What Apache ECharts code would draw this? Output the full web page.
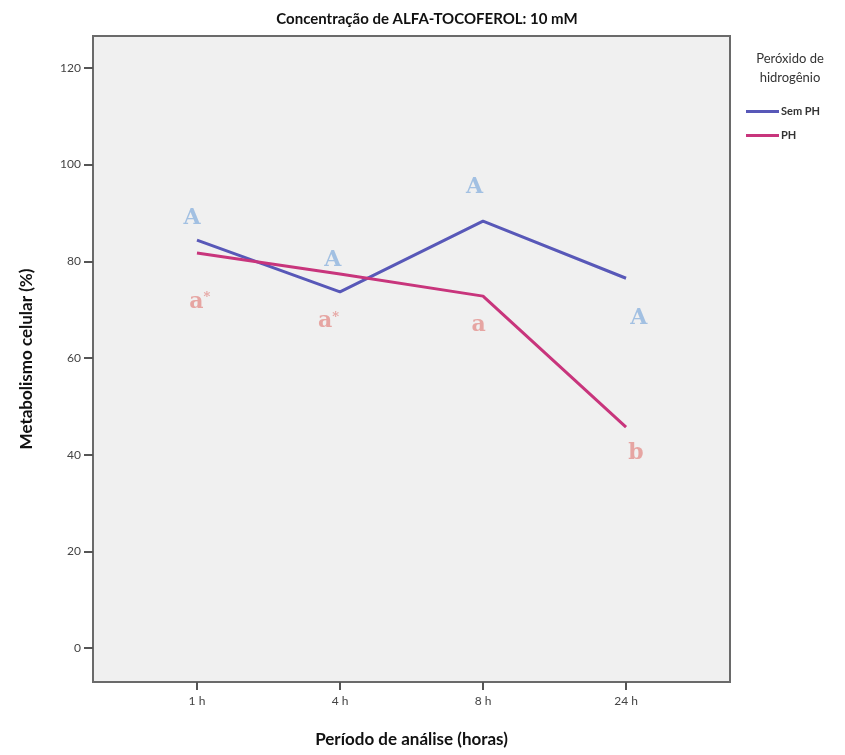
<!DOCTYPE html>
<html>
<head>
<meta charset="utf-8">
<style>html,body{margin:0;padding:0;background:#fff}#c{width:845px;height:755px}</style>
<script src="https://cdn.jsdelivr.net/npm/echarts@6/dist/echarts.min.js"></script>
</head>
<body>
<div id="c"></div>
<script>
const categories = ['1 h', '4 h', '8 h', '24 h'];
const semPH = [84.4, 73.7, 88.3, 76.5];
const ph = [81.7, 77.4, 72.8, 45.7];
const yTicks = [0, 20, 40, 60, 80, 100, 120];
// letter annotations: [x offset from category (category units), y value, text]
const upperLetters = [[-0.035, 89.0, 'A'], [-0.05, 80.3, 'A'], [-0.06, 95.4, 'A'], [0.09, 68.3, 'A']];
const lowerLetters = [[0.02, 71.6, 'a*'], [-0.08, 67.5, 'a*'], [-0.03, 66.8, 'a'], [0.07, 40.3, 'b']];

const chart = echarts.init(document.getElementById('c'));
const toXY = arr => arr.map((v, i) => [i, v]);
const toAnno = arr => arr.map((d, i) => [i + d[0], d[1], d[2]]);
const font = 'Lato, "Open Sans", sans-serif';
const letterFmt = p => {
  const t = p.data[2];
  return t.endsWith('*') ? '{m|' + t.slice(0, -1) + '}{s|*}' : '{m|' + t + '}';
};
const letterLabel = color => ({
  show: true, position: 'inside', formatter: letterFmt,
  rich: {
    m: {fontFamily: '"DejaVu Serif", serif', fontWeight: 'bold', fontSize: 22, color: color},
    s: {fontFamily: '"DejaVu Serif", serif', fontWeight: 'bold', fontSize: 13, color: color, verticalAlign: 'top', padding: [0, 0, 8, 0]}
  }
});

chart.setOption({
  animation: false,
  title: [{
    text: 'Concentração de ALFA-TOCOFEROL: 10 mM',
    left: 422, top: 7, textAlign: 'center',
    textStyle: {fontFamily: font, fontSize: 15, fontWeight: 'bold', color: '#111'}
  }, {
    text: 'Peróxido de\nhidrogênio',
    left: 785, top: 44, textAlign: 'center',
    textStyle: {fontFamily: font, fontSize: 13, fontWeight: 'normal', color: '#333', lineHeight: 19}
  }],
  legend: {
    data: ['Sem PH', 'PH'],
    orient: 'vertical',
    left: 741, top: 101,
    itemWidth: 33, itemHeight: 3, itemGap: 13,
    icon: 'rect',
    textStyle: {fontFamily: font, fontSize: 11, fontWeight: 'bold', color: '#333', padding: [0, 0, 0, -3]}
  },
  grid: {
    left: 93, top: 36, width: 637, height: 646,
    show: true, backgroundColor: '#f0f0f0', borderColor: '#6a6a6a', borderWidth: 2
  },
  xAxis: {
    type: 'value', min: -0.727, max: 3.727,
    axisLine: {show: false, onZero: false},
    splitLine: {show: false},
    axisTick: {show: true, customValues: [0, 1, 2, 3], length: 8, lineStyle: {color: '#555', width: 2}},
    axisLabel: {
      customValues: [0, 1, 2, 3],
      formatter: v => categories[Math.round(v)] || '',
      fontFamily: font, fontSize: 12, color: '#444', margin: 13
    },
    name: 'Período de análise (horas)', nameLocation: 'middle', nameGap: 49,
    nameTextStyle: {fontFamily: font, fontSize: 17, fontWeight: 'bold', color: '#111'}
  },
  yAxis: {
    type: 'value', min: -7, max: 126.6,
    axisLine: {show: false, onZero: false},
    splitLine: {show: false},
    axisTick: {show: true, customValues: yTicks, length: 9, lineStyle: {color: '#555', width: 2}},
    axisLabel: {customValues: yTicks, fontFamily: font, fontSize: 12, color: '#444', margin: 12},
    name: 'Metabolismo celular (%)', nameLocation: 'middle', nameGap: 58,
    nameTextStyle: {fontFamily: font, fontSize: 17, fontWeight: 'bold', color: '#111'}
  },
  series: [{
    name: 'Sem PH', type: 'line', data: toXY(semPH),
    symbol: 'none', color: '#5858b8', lineStyle: {width: 3, color: '#5858b8'}
  }, {
    name: 'PH', type: 'line', data: toXY(ph),
    symbol: 'none', color: '#c8357c', lineStyle: {width: 3, color: '#c8357c'}
  }, {
    name: 'upper', type: 'scatter', data: toAnno(upperLetters),
    symbolSize: 1, itemStyle: {color: 'rgba(0,0,0,0)'}, silent: true,
    label: letterLabel('#8fb4df')
  }, {
    name: 'lower', type: 'scatter', data: toAnno(lowerLetters),
    symbolSize: 1, itemStyle: {color: 'rgba(0,0,0,0)'}, silent: true,
    label: letterLabel('#e3928f')
  }]
});
</script>
</body>
</html>
